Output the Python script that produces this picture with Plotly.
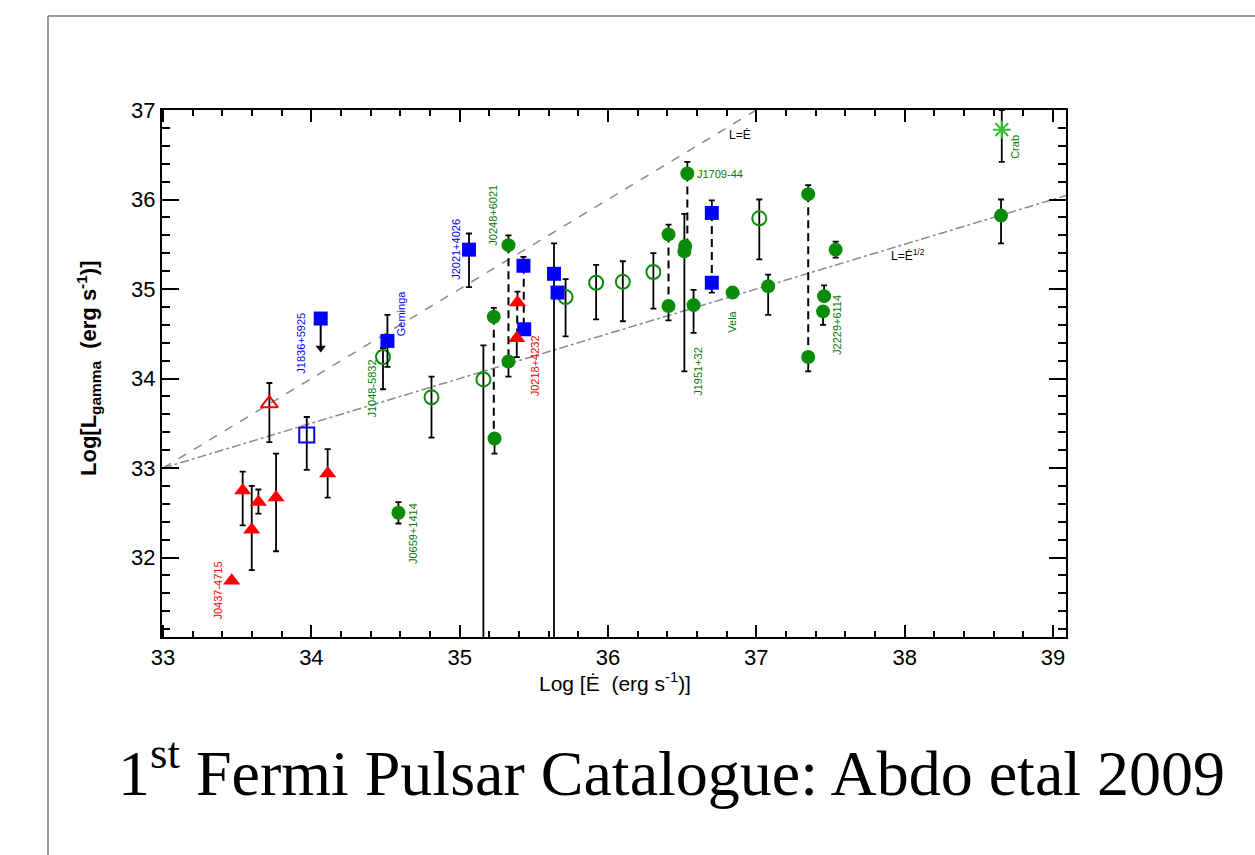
import plotly.graph_objects as go

# ---------------- data ----------------
# red filled triangles (millisecond pulsars)
msp_x = [33.463, 33.537, 33.598, 33.643, 33.762, 34.110, 35.390, 35.385]
msp_y = [31.74, 32.75, 32.31, 32.62, 32.67, 32.94, 34.85, 34.45]
msp_ep = [0.0, 0.21, 0.49, 0.14, 0.49, 0.27, 0.12, 0.0]
msp_em = [0.0, 0.39, 0.45, 0.13, 0.60, 0.27, 0.0, 0.21]

# red open triangle
msp2_x = [33.717]
msp2_y = [33.72]
msp2_ep = [0.23]
msp2_em = [0.43]

# blue filled squares (gamma-selected)
gs_x = [34.513, 35.063, 35.430, 35.435, 35.636, 35.660, 36.700, 36.700]
gs_y = [34.42, 35.44, 35.26, 34.55, 35.17, 34.96, 35.85, 35.07]
gs_ep = [0.29, 0.18, 0.10, 0.0, 0.34, 0.0, 0.14, 0.0]
gs_em = [0.29, 0.42, 0.0, 0.0, 4.5, 0.0, 0.0, 0.11]

# blue filled square upper limit
ul_x = [34.063]
ul_y = [34.67]
ul_lim = [34.34]

# blue open square
gs2_x = [33.969]
gs2_y = [33.37]
gs2_ep = [0.20]
gs2_em = [0.39]

# green filled circles (radio-selected)
rs_x = [34.587, 35.230, 35.235, 35.329, 35.329, 36.408, 36.408, 36.535,
        36.520, 36.515, 36.577, 36.840, 37.080, 37.350, 37.350, 37.535,
        37.457, 37.450, 38.650]
rs_y = [32.50, 34.69, 33.33, 35.49, 34.19, 35.61, 34.81, 36.29,
        35.48, 35.42, 34.82, 34.96, 35.03, 36.06, 34.24, 35.44,
        34.92, 34.75, 35.82]
rs_ep = [0.12, 0.10, 0.0, 0.11, 0.0, 0.11, 0.0, 0.13,
         0.0, 0.42, 0.17, 0.03, 0.13, 0.10, 0.0, 0.09,
         0.12, 0.0, 0.18]
rs_em = [0.12, 0.0, 0.17, 0.0, 0.17, 0.0, 0.16, 0.0,
         0.0, 1.34, 0.31, 0.03, 0.32, 0.0, 0.16, 0.09,
         0.0, 0.15, 0.31]

# green open circles
ro_x = [34.483, 34.810, 35.160, 35.714, 35.920, 36.100, 36.306, 37.020]
ro_y = [34.24, 33.79, 33.99, 34.91, 35.07, 35.08, 35.19, 35.79]
ro_ep = [0.10, 0.23, 0.38, 0.20, 0.20, 0.23, 0.21, 0.21]
ro_em = [0.36, 0.45, 4.5, 0.44, 0.41, 0.44, 0.41, 0.46]

# Crab
crab_x = [38.655]
crab_y = [36.78]
crab_ep = [0.22]
crab_em = [0.36]

# dashed connectors between alternative values (x, top, bottom)
pair_x = [35.230, 35.329, 35.388, 35.432, 36.408, 36.535, 36.700, 37.350]
pair_top = [34.69, 35.49, 34.85, 35.26, 35.61, 36.29, 35.85, 36.06]
pair_bot = [33.33, 34.19, 34.45, 34.55, 34.81, 35.45, 35.07, 34.24]

# reference relations L = Edot and L = Edot^(1/2)
lin_x = [33.0, 37.0]
lin_y = [33.0, 37.0]
sqrt_x = [33.0, 39.1]
sqrt_y = [33.0, 36.05]

# pulsar name labels: text, x, y, group
lab_text = ["J1836+5925", "Geminga", "J2021+4026", "J1048-5832", "J0659+1414",
            "J0437-4715", "J0248+6021", "J0218+4232", "J1951+32", "Vela",
            "J2229+6114", "Crab"]
lab_x = [33.93, 34.605, 34.97, 34.41, 34.69, 33.37, 35.225, 35.51, 36.61,
         36.84, 37.545, 38.745]
lab_y = [34.40, 34.73, 35.44, 33.89, 32.27, 31.63, 35.82, 34.14, 34.08,
         34.63, 34.60, 36.59]
lab_grp = ["b", "b", "b", "g", "g", "r", "g", "r", "g", "g", "g", "g"]

x_ticks = [33, 34, 35, 36, 37, 38, 39]
y_ticks = [32, 33, 34, 35, 36, 37]

# ---------------- styling ----------------
RED = "#ff0000"
BLUE = "#0000ff"
GREEN = "#0a8c0a"
GREEN_TXT = "#0a7a0a"
CRAB = "#33c033"
grp_col = {"r": RED, "b": BLUE, "g": GREEN_TXT}

W, H = 1255, 855
L, R, T, B = 162, 189, 110, 218
PW, PH = W - L - R, H - T - B


def px(xp):
    return (xp - L) / PW


def py(yp):
    return (H - B - yp) / PH


def err(ep, em):
    return dict(type="data", symmetric=False, array=ep, arrayminus=em,
                color="black", thickness=1.8, width=3)


fig = go.Figure()

# reference lines
fig.add_trace(go.Scatter(x=lin_x, y=lin_y, mode="lines",
                         line=dict(color="#8a8a8a", width=1.5, dash="dash")))
fig.add_trace(go.Scatter(x=sqrt_x, y=sqrt_y, mode="lines",
                         line=dict(color="#8a8a8a", width=1.5, dash="dashdot")))

# dashed connectors
for xv, t, b in zip(pair_x, pair_top, pair_bot):
    fig.add_trace(go.Scatter(x=[xv, xv], y=[t, b], mode="lines",
                             line=dict(color="black", width=2, dash="8px,5px")))

# upper limit line + arrow head
fig.add_trace(go.Scatter(x=ul_x + ul_x, y=ul_y + ul_lim, mode="lines",
                         line=dict(color="black", width=2)))
fig.add_trace(go.Scatter(x=ul_x, y=ul_lim, mode="markers",
                         marker=dict(symbol="triangle-down", size=9, color="black")))

fig.add_trace(go.Scatter(x=ro_x, y=ro_y, mode="markers", error_y=err(ro_ep, ro_em),
                         marker=dict(symbol="circle-open", size=14,
                                     line=dict(color=GREEN, width=2), color=GREEN)))
fig.add_trace(go.Scatter(x=rs_x, y=rs_y, mode="markers", error_y=err(rs_ep, rs_em),
                         marker=dict(symbol="circle", size=14, color=GREEN)))
fig.add_trace(go.Scatter(x=gs2_x, y=gs2_y, mode="markers", error_y=err(gs2_ep, gs2_em),
                         marker=dict(symbol="square-open", size=15,
                                     line=dict(color=BLUE, width=2), color=BLUE)))
fig.add_trace(go.Scatter(x=gs_x, y=gs_y, mode="markers", error_y=err(gs_ep, gs_em),
                         marker=dict(symbol="square", size=14, color=BLUE)))
fig.add_trace(go.Scatter(x=ul_x, y=ul_y, mode="markers",
                         marker=dict(symbol="square", size=14, color=BLUE)))
fig.add_trace(go.Scatter(x=msp2_x, y=msp2_y, mode="markers", error_y=err(msp2_ep, msp2_em),
                         marker=dict(symbol="triangle-up-open", size=15,
                                     line=dict(color=RED, width=2), color=RED)))
fig.add_trace(go.Scatter(x=msp_x, y=msp_y, mode="markers", error_y=err(msp_ep, msp_em),
                         marker=dict(symbol="triangle-up", size=15, color=RED)))
fig.add_trace(go.Scatter(x=crab_x, y=crab_y, mode="markers", error_y=err(crab_ep, crab_em),
                         marker=dict(symbol="asterisk-open", size=15,
                                     line=dict(color=CRAB, width=2), color=CRAB)))

annotations = []
for t, xv, yv, g in zip(lab_text, lab_x, lab_y, lab_grp):
    annotations.append(dict(x=xv, y=yv, xref="x", yref="y", text=t, showarrow=False,
                            textangle=-90, xanchor="center", yanchor="middle",
                            font=dict(family="Liberation Sans", size=11, color=grp_col[g])))
annotations.append(dict(x=36.587, y=36.28, xref="x", yref="y", text="J1709-44",
                        showarrow=False, xanchor="left", yanchor="middle",
                        font=dict(family="Liberation Sans", size=11, color=GREEN_TXT)))
annotations.append(dict(x=36.89, y=36.72, xref="x", yref="y", text="L=Ė",
                        showarrow=False, xanchor="center", yanchor="middle",
                        font=dict(family="Liberation Sans", size=12, color="black")))
annotations.append(dict(x=38.02, y=35.38, xref="x", yref="y", text="L=Ė<sup>1/2</sup>",
                        showarrow=False, xanchor="center", yanchor="middle",
                        font=dict(family="Liberation Sans", size=12, color="black")))
# axis titles
annotations.append(dict(x=px(615), y=py(682), xref="paper", yref="paper",
                        xanchor="center", yanchor="middle",
                        text="Log [Ė  (erg s<sup>-1</sup>)]", showarrow=False,
                        font=dict(family="Liberation Sans", size=21, color="black")))
annotations.append(dict(x=px(88), y=py(369), xref="paper", yref="paper",
                        xanchor="center", yanchor="middle",
                        text="<b>Log[L<sub>gamma</sub>  (erg s<sup>-1</sup>)]</b>",
                        showarrow=False, textangle=-90,
                        font=dict(family="Liberation Sans", size=22, color="black")))
# slide caption
annotations.append(dict(x=px(671), y=py(768), xref="paper", yref="paper",
                        xanchor="center", yanchor="middle",
                        text="1<sup>st</sup> Fermi Pulsar Catalogue: Abdo etal 2009",
                        showarrow=False,
                        font=dict(family="Liberation Serif", size=64, color="black")))

shapes = [
    dict(type="line", xref="paper", yref="paper", x0=px(48), x1=px(1260), y0=py(16), y1=py(16),
         line=dict(color="#7a7a7a", width=1.5)),
    dict(type="line", xref="paper", yref="paper", x0=px(48), x1=px(48), y0=py(16), y1=py(860),
         line=dict(color="#7a7a7a", width=1.5)),
]

axis_common = dict(showgrid=False, zeroline=False, showline=True, linecolor="black",
                   linewidth=2, mirror="ticks", ticks="inside", tickcolor="black",
                   tickwidth=1.5,
                   tickfont=dict(family="Liberation Sans", size=22, color="black"))

fig.update_xaxes(range=[32.993, 39.088], tickvals=x_ticks, ticklen=12,
                 minor=dict(ticks="inside", dtick=0.2, tick0=33, ticklen=6,
                            tickcolor="black", tickwidth=1.5),
                 **axis_common)
fig.update_yaxes(range=[31.112, 37.0], tickvals=y_ticks, ticklen=17,
                 minor=dict(ticks="inside", dtick=0.2, tick0=31, ticklen=8,
                            tickcolor="black", tickwidth=1.5),
                 **axis_common)

fig.update_layout(width=W, height=H, autosize=False, showlegend=False,
                  margin=dict(l=L, r=R, t=T, b=B, pad=0),
                  paper_bgcolor="white", plot_bgcolor="white",
                  annotations=annotations, shapes=shapes)

fig.write_html("out.html")
